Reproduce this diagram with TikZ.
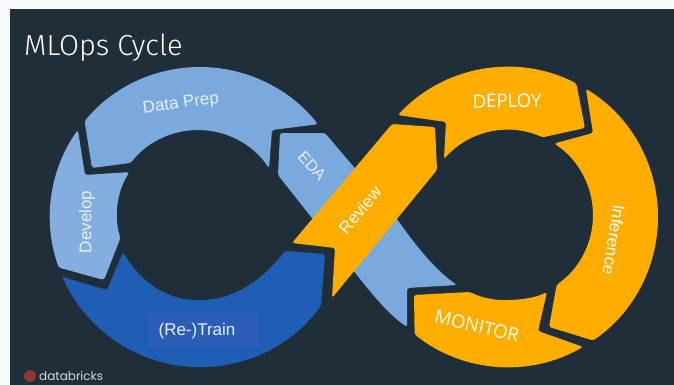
\documentclass[tikz,border=0pt]{standalone}
\usepackage{fontspec}
\setmainfont{Liberation Sans}
\newfontfamily\titlefont{Fira Sans Light}
\newfontfamily\logofont{Poppins}
\newfontfamily\capsfont{Open Sans}
\definecolor{bgdark}{HTML}{1F2E39}
\definecolor{sheet}{HTML}{F8F9F9}
\definecolor{lightblue}{HTML}{79A9DD}
\definecolor{devblue}{HTML}{84AEDF}
\definecolor{deepblue}{HTML}{1E5FB5}
\definecolor{boxblue}{HTML}{2C5DB6}
\definecolor{amber}{HTML}{FFAE00}
\definecolor{amberbox}{HTML}{FDAC00}
\definecolor{labelwhite}{HTML}{E6F0FA}
\definecolor{logored}{HTML}{8E3B2F}
\tikzset{
  segment/.style={rounded corners=2.5pt},
  seglabel/.style={text=labelwhite,font=\fontsize{17}{20}\selectfont,inner sep=0pt},
  capslabel/.style={text=white,font=\capsfont\fontsize{18.5}{22}\selectfont,inner sep=0pt},
  lc/.style={shift={(200,217)}},
  li/.style={shift={(198,215)}},
  rc/.style={shift={(508,217)}},
  ri/.style={shift={(508,215)}}
}
\begin{document}
\begin{tikzpicture}[x=1pt,y=-1pt]
\useasboundingbox (0,0) rectangle (674,385);
\fill[sheet] (0,0) rectangle (674,385);
\fill[bgdark] (10,9) rectangle (674,385);
% EDA
\fill[lightblue,segment] (280,133) -- (325,133) -- (392,212) .. controls (415,245) and (435,270) .. (457,285) -- (407,288) -- (407,327) .. controls (385,312) and (365,285) .. (345,260) -- (278,175) -- cycle;
% Review
\fill[amber,segment] (292,243) -- (392,124) -- (435,127) -- (437,170) -- (332,298) -- (335,248) -- cycle;
% Data Prep
\fill[lightblue,segment] ([lc]219.7:150) arc[start angle=219.7,end angle=321.8,radius=150] -- (272,130) -- ([li]326.7:85) arc[start angle=326.7,end angle=217.8,radius=85] -- (92,168) -- cycle;
% Develop
\fill[devblue,segment] ([lc]215.5:150) arc[start angle=215.5,end angle=160.3,radius=150] -- (104,280) -- ([li]163.4:81) arc[start angle=163.4,end angle=212,radius=81] -- (85,175) -- cycle;
% Train
\fill[deepblue,segment] ([lc]156.4:150) -- (107,290) -- (123,252) .. controls (140,282) and (168,300) .. (197,300) .. controls (235,300) and (262,280) .. (285,251) -- (325,254) -- ([lc]36.2:150) arc[start angle=36.2,end angle=156.4,radius=150] -- cycle;
% Deploy
\fill[amber,segment] ([rc]222.8:150) arc[start angle=222.8,end angle=297.1,radius=150] -- (585,128) -- ([ri]294:85) arc[start angle=294,end angle=221.1,radius=85] -- (446,122) -- cycle;
% Inference
\fill[amber,segment] ([rc]301.3:150) arc[start angle=301.3,end angle=415.4,radius=150] -- (549,327) -- ([ri]55:85) arc[start angle=55,end angle=-57.2,radius=85] -- (593,133) -- cycle;
% Monitor
\fill[amber,segment] (414,295) -- (470,292) .. controls (482,298) and (495,300) .. (505,300) .. controls (520,300) and (535,298) .. (547,292) -- (538,331) -- ([rc]60:150) arc[start angle=60,end angle=128.5,radius=150] -- cycle;
% labels
\node[anchor=west,text=white,font=\titlefont\fontsize{29}{34}\selectfont,inner sep=0pt] (title) at (24,48) {MLOps Cycle};
\node[seglabel,rotate=8] (dataprep) at (181,104) {Data Prep};
\node[seglabel,rotate=90] (develop) at (87,222) {Develop};
\node[fill=boxblue,minimum width=111pt,minimum height=35pt,inner sep=0pt] (trainbox) at (203.5,330.5) {};
\node[seglabel] (train) at (197,331) {(Re-)Train};
\node[seglabel,rotate=-48,font=\fontsize{16}{19}\selectfont] (eda) at (312,166) {EDA};
\node[seglabel,rotate=50,text=white] (review) at (360,210) {Review};
\node[capslabel,rotate=1] (deploy) at (507,101) {DEPLOY};
\node[seglabel,text=white,rotate=-99,fill=amberbox,inner sep=3pt] (inference) at (614,240) {Inference};
\node[capslabel,rotate=-13] (monitor) at (477,326) {MONITOR};
\fill[logored] (30,376) circle (6);
\node[anchor=west,text=white!85!black,font=\logofont\fontsize{12}{14}\selectfont,inner sep=0pt] (logo) at (39,376) {databricks};
\end{tikzpicture}
\end{document}
